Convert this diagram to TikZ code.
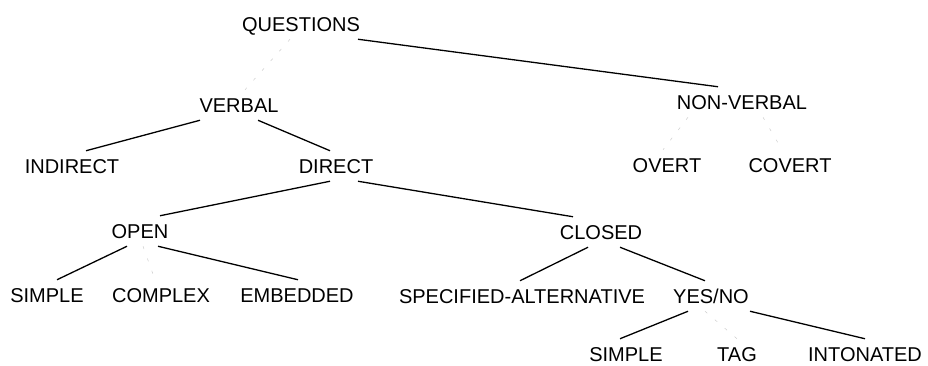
\documentclass[tikz,border=0pt]{standalone}
\usepackage{fontspec}
\setmainfont{Liberation Sans}
\begin{document}
\begin{tikzpicture}[x=1pt,y=-1pt,every node/.style={inner sep=0pt,outer xsep=0pt,outer ysep=8pt,text height=14.5pt,text depth=0pt,font=\fontsize{20}{24}\selectfont}]

  \useasboundingbox (0,0) rectangle (928,366);

  % Specification of nodes (position, etc.)
  \node (qu) at (301,24) {QUESTIONS};
  \node (vb) at (239,105) {VERBAL};
  \node (nv) at (742,102) {NON-VERBAL};
  \node (ind) at (72,166) {INDIRECT};
  \node (dir) at (336,166) {DIRECT};
  \node (ov) at (667,165) {OVERT};
  \node (cov) at (790,165) {COVERT};
  \node (op) at (140,231) {OPEN};
  \node (cl) at (601,232) {CLOSED};
  \node (s0) at (47,295) {SIMPLE};
  \node (cx) at (161,295) {COMPLEX};
  \node (em) at (297,295) {EMBEDDED};
  \node (sa) at (522,296) {SPECIFIED-ALTERNATIVE};
  \node (yn) at (711,296) {YES/NO};
  \node (s1) at (626,354) {SIMPLE};
  \node (tg) at (737,354) {TAG};
  \node (it) at (865,354) {INTONATED};

  \begin{scope}[-,line width=1.3pt]
    \tikzstyle{faint}=[gray!40,line width=0.5pt,dash pattern=on 3pt off 10pt]
    \draw ([xshift=57pt]qu.south) to ([xshift=-24pt]nv.north);
    \draw[faint] ([xshift=-11pt]qu.south) to ([xshift=6pt]vb.north);
    \draw ([xshift=-39pt]vb.south) to ([xshift=14pt]ind.north);
    \draw ([xshift=19pt]vb.south) to ([xshift=-6pt]dir.north);
    \draw[faint] ([xshift=-54pt]nv.south) to ([xshift=-4pt]ov.north);
    \draw[faint] ([xshift=21pt]nv.south) to ([xshift=-8pt]cov.north);
    \draw ([xshift=-6pt]dir.south) to ([xshift=20pt]op.north);
    \draw ([xshift=22pt]dir.south) to ([xshift=-28pt]cl.north);
    \draw ([xshift=-13pt]op.south) to ([xshift=10pt]s0.north);
    \draw[faint] ([xshift=3pt]op.south) to ([xshift=-6pt]cx.north);
    \draw ([xshift=18pt]op.south) to ([xshift=1pt]em.north);
    \draw ([xshift=-13pt]cl.south) to ([xshift=-2pt]sa.north);
    \draw ([xshift=19pt]cl.south) to ([xshift=-6pt]yn.north);
    \draw ([xshift=-23pt]yn.south) to ([xshift=-6pt]s1.north);
    \draw[faint] ([xshift=-6pt]yn.south) to (tg.north);
    \draw ([xshift=39pt]yn.south) to (it.north);
  \end{scope}

\end{tikzpicture}
\end{document}
